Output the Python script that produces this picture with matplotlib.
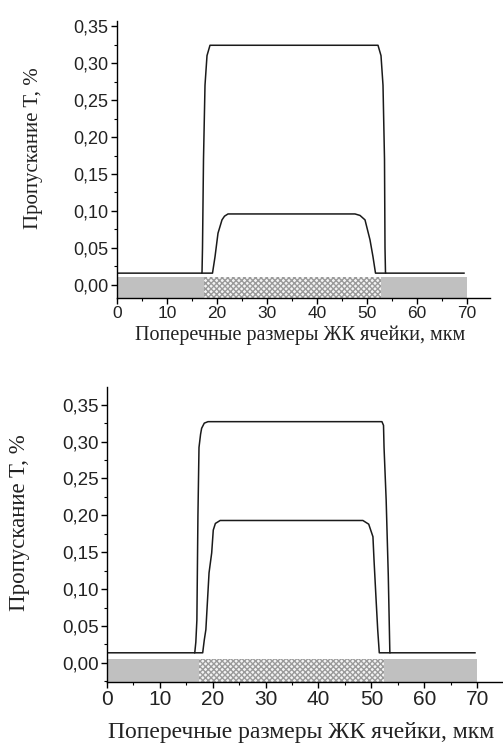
import numpy as np
import matplotlib
matplotlib.use("Agg")
import matplotlib.pyplot as plt
from matplotlib.ticker import MultipleLocator, FuncFormatter

# Top panel: outer (upper) curve and inner (lower) curve
top_outer_x = [0, 17.0, 17.1, 17.3, 17.6, 18.0, 18.6, 52.2, 52.8, 53.2, 53.5, 53.6, 53.7, 69.4]
top_outer_y = [0.016, 0.016, 0.05, 0.17, 0.27, 0.31, 0.324, 0.324, 0.31, 0.27, 0.17, 0.05, 0.016, 0.016]
top_inner_x = [17.0, 19.1, 19.6, 20.2, 21.0, 21.5, 22.2, 47.6, 48.6, 49.6, 50.6, 51.2, 51.7, 53.7]
top_inner_y = [0.016, 0.016, 0.038, 0.070, 0.088, 0.093, 0.096, 0.096, 0.094, 0.088, 0.061, 0.038, 0.016, 0.016]

# Bottom panel
bot_outer_x = [0, 16.6, 16.8, 17.0, 17.2, 17.4, 17.7, 17.9, 18.4, 19.1, 52.0, 52.3, 52.4, 52.8, 53.2, 53.5, 69.6]
bot_outer_y = [0.0136, 0.0136, 0.028, 0.058, 0.20, 0.292, 0.31, 0.318, 0.325, 0.327, 0.327, 0.322, 0.292, 0.221, 0.119, 0.0136, 0.0136]
bot_inner_x = [16.6, 18.1, 18.4, 18.7, 19.3, 19.8, 20.1, 20.5, 21.4, 48.4, 49.5, 50.3, 50.5, 50.9, 51.2, 51.5, 53.5]
bot_inner_y = [0.0136, 0.0136, 0.031, 0.045, 0.122, 0.149, 0.180, 0.189, 0.193, 0.193, 0.188, 0.171, 0.140, 0.085, 0.045, 0.0136, 0.0136]

# Substrate (grey strip) and LC layer (hatched) extents
top_strip = [0, 70, 0.011]
top_lc = [17.4, 52.8]
bot_strip = [0, 70, 0.0054]
bot_lc = [17.4, 52.4]

x_ticks = [0, 10, 20, 30, 40, 50, 60, 70]
y_ticks = [0.00, 0.05, 0.10, 0.15, 0.20, 0.25, 0.30, 0.35]

xlabel = "Поперечные размеры ЖК ячейки, мкм"
ylabel = "Пропускание T, %"

W, H = 503, 746
fig = plt.figure(figsize=(W / 100, H / 100), dpi=100)


def axes_px(left, right, top, bottom):
    return fig.add_axes([left / W, 1 - bottom / H, (right - left) / W, (bottom - top) / H])


def panel(ax, outer, inner, strip, lc, xlim, ylim, xfs, yfs, xlfs, ylfs, ylab_pos, xlab_y):
    # substrate strip + hatched LC layer
    ax.fill_between([strip[0], strip[1]], ylim[0], strip[2], color="#c0c0c0", lw=0)
    ax.fill_between(lc, ylim[0], strip[2], facecolor="#f4f4f4", edgecolor="#9a9a9a",
                    hatch="xxxxxx", lw=0)
    ax.plot(outer[0], outer[1], color="#1a1a1a", lw=1.1)
    ax.plot(inner[0], inner[1], color="#1a1a1a", lw=1.1)
    ax.set_xlim(*xlim)
    ax.set_ylim(*ylim)
    for s in ["top", "right"]:
        ax.spines[s].set_visible(False)
    for s in ["left", "bottom"]:
        ax.spines[s].set_linewidth(1.0)
    ax.set_xticks(x_ticks)
    ax.set_yticks(y_ticks)
    ax.xaxis.set_minor_locator(MultipleLocator(5))
    ax.yaxis.set_minor_locator(MultipleLocator(0.025))
    ax.yaxis.set_major_formatter(FuncFormatter(lambda v, p: f"{v:.2f}".replace(".", ",")))
    ax.tick_params(which="major", direction="out", length=4, width=1.0, pad=2)
    ax.tick_params(which="minor", direction="out", length=2.5, width=0.8)
    for t in ax.get_xticklabels():
        t.set_fontfamily("Liberation Sans")
        t.set_fontsize(xfs)
        t.set_color("#222222")
    for t in ax.get_yticklabels():
        t.set_fontfamily("Liberation Sans")
        t.set_fontsize(yfs)
        t.set_color("#222222")
    ax.set_xlabel(xlabel, family="Liberation Serif", fontsize=xlfs, color="#222222")
    ax.set_ylabel(ylabel, family="Liberation Serif", fontsize=ylfs, color="#222222")
    ax.yaxis.set_label_coords(*ylab_pos)
    ax.xaxis.set_label_coords(0.49, xlab_y)


ax1 = axes_px(117, 490, 21, 298)
panel(ax1, (top_outer_x, top_outer_y), (top_inner_x, top_inner_y), top_strip, top_lc,
      (0, 74.6), (-0.0176, 0.3568), 12.5, 13, 14.5, 15, (-0.198, 0.54), -0.1)

ax2 = axes_px(107, 503, 387, 682)
panel(ax2, (bot_outer_x, bot_outer_y), (bot_inner_x, bot_inner_y), bot_strip, bot_lc,
      (0, 74.9), (-0.026, 0.374), 15, 13.5, 17, 16.5, (-0.194, 0.54), -0.135)

fig.savefig("out.png", dpi=100)
